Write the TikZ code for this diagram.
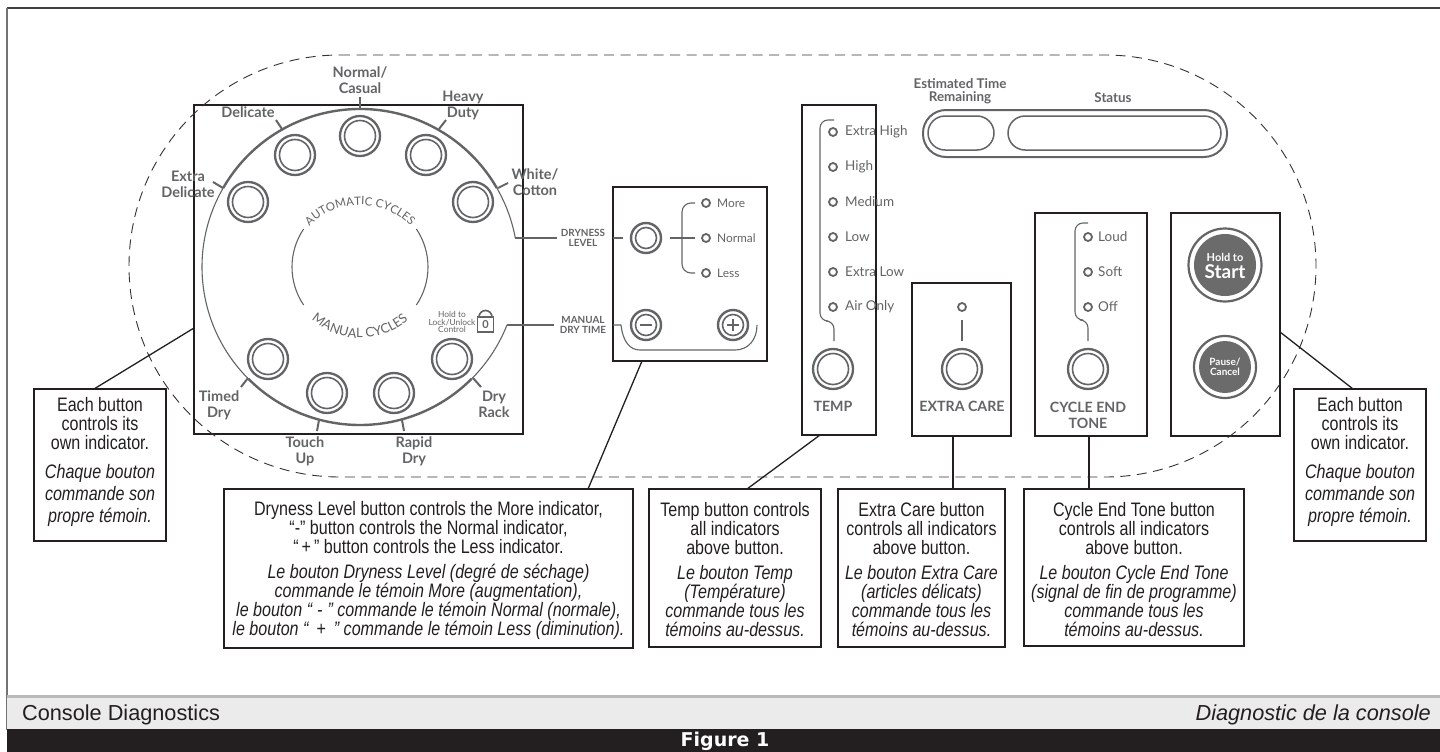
\documentclass[tikz,border=0pt]{standalone}
\usepackage{fontspec}
\setmainfont{Liberation Sans}
\newfontfamily\nar[FakeStretch=0.825]{Liberation Sans}
\newfontfamily\lab{Lato}
\newfontfamily\heavy{DejaVu Sans}
\usetikzlibrary{decorations.text,calc}
\definecolor{pg}{HTML}{636466}
\definecolor{ink}{HTML}{231F20}
\newcommand\topgap{\rule{0pt}{18pt}}
\newcommand\botgap{\rule[-11pt]{0pt}{0pt}}
\tikzset{
  x=1pt,y=1pt,
  btnout/.style={circle,draw=pg,line width=2.3pt,minimum size=40pt,inner sep=0pt,outer sep=0pt},
  btnin/.style={circle,draw=pg,line width=1.6pt,minimum size=31pt,inner sep=0pt,outer sep=0pt},
  smout/.style={circle,draw=pg,line width=2.4pt,minimum size=30pt,inner sep=0pt,outer sep=0pt},
  smin/.style={circle,draw=pg,line width=1.6pt,minimum size=21pt,inner sep=0pt,outer sep=0pt},
  led/.style={circle,draw=pg,line width=1.8pt,minimum size=8pt,inner sep=0pt,outer sep=0pt},
  panelbox/.style={draw=ink,line width=1.7pt,inner sep=0pt,outer sep=0pt,rectangle},
  call/.style={draw=ink,line width=1.8pt,inner sep=0pt,outer sep=0pt,rectangle,align=center,text=ink,
     font=\nar\fontsize{19.5}{19}\selectfont},
  lead/.style={draw=ink,line width=1.3pt},
  thinln/.style={draw=pg,line width=1.1pt},
  thickarc/.style={draw=pg,line width=2.4pt},
  dialtick/.style={draw=pg,line width=2pt},
  cyc/.style={text=pg,inner sep=0pt,align=center,font=\lab\bfseries\fontsize{14.5}{16}\selectfont},
  ind/.style={text=pg,inner sep=0pt,anchor=west,font=\lab\fontsize{11.9}{12}\selectfont},
  indb/.style={text=pg,inner sep=0pt,anchor=west,font=\lab\fontsize{13.5}{14}\selectfont},
  captxt/.style={text=pg,inner sep=0pt,align=center,font=\lab\bfseries\fontsize{14.2}{16}\selectfont},
  tinytxt/.style={text=pg,inner sep=0pt,align=center,font=\lab\bfseries\fontsize{9.9}{9.3}\selectfont},
}
\begin{document}
\begin{tikzpicture}
\useasboundingbox (0,0) rectangle (1440,-752);
\fill[white] (0,0) rectangle (1440,-752);
% frame and footer
\draw[draw=black!75,line width=1.8pt] (1440,-8) -- (7,-8);
\draw[draw=black!55,line width=1.8pt] (7,-8) -- (7,-730);
\fill[fill=black!8] (7,-696) rectangle (1440,-729);
\fill[fill=black!27] (7,-695) rectangle (1440,-698);
\fill[fill=ink] (7,-729) rectangle (1440,-752);
\node[anchor=west,inner sep=0pt,text=ink,font=\fontsize{21.7}{22}\selectfont] (fl) at (22,-715) {Console Diagnostics};
\node[anchor=east,inner sep=0pt,text=ink,font=\itshape\fontsize{21.7}{22}\selectfont] (fr) at (1431,-715) {Diagnostic de la console};
\node[inner sep=0pt,text=white,font=\heavy\bfseries\fontsize{19}{19}\selectfont] (fig) at (725,-741) {Figure 1};
% panels
\node[panelbox,minimum width=329pt,minimum height=329pt] (panel) at (358.5,-269.5) {};
\node[panelbox,minimum width=154pt,minimum height=174pt] (dry) at (690,-274) {};
\node[panelbox,minimum width=74pt,minimum height=330pt] (temp) at (839,-270) {};
\node[panelbox,minimum width=99pt,minimum height=153pt] (extra) at (961.5,-359.5) {};
\node[panelbox,minimum width=112pt,minimum height=223pt] (tone) at (1091,-324.5) {};
\node[panelbox,minimum width=109pt,minimum height=223pt] (start) at (1225.5,-324.5) {};
% dial
\coordinate (C) at (360,-267);
\draw[thickarc] (C) ++(150:158) arc (150:30:158);
\draw[thickarc] (C) ++(225:158) arc (225:315:158);
\draw[thinln] (C) ++(150:158) arc (150:225:158);
\coordinate (arcA) at (515,-238);
\coordinate (arcB) at (507,-325);
\draw[thinln] (C) ++(30:158) arc (30:10.6:158) -- (arcA);
\draw[thinln] (C) ++(-45:158) arc (-45:-22:158) -- (arcB);
\draw[thinln] (C) ++(146:68) arc (146:214:68);
\draw[thinln] (C) ++(34:68) arc (34:-34:68);
\path[decorate,decoration={text along path,text align=center,
   text={|\lab\fontsize{11.5}{12}\selectfont\color{pg}|AUTOMATIC CYCLES}}]
   (360,-276) ++(137:71) arc (137:43:71);
\path[decorate,decoration={text along path,text align=center,
   text={|\lab\fontsize{13}{13}\selectfont\color{pg}|MANUAL CYCLES}}]
   (360,-265) ++(222:73) arc (222:318:73);
% ticks
\draw[dialtick] (213,-182) -- (223,-188);
\draw[dialtick] (276,-120) -- (282,-129);
\draw[dialtick] (360,-97) -- (360,-108);
\draw[dialtick] (446,-120) -- (439,-129);
\draw[dialtick] (508,-183) -- (498,-188);
\draw[dialtick] (241,-387) -- (248,-378);
\draw[dialtick] (317,-431) -- (319,-420);
\draw[dialtick] (404,-431) -- (402,-420);
\draw[dialtick] (481,-387) -- (473,-378);
% buttons
\foreach \n/\x/\y in {nc/360/136,de/295/155,hd/426/155,ed/248/202,wc/473/202,td/268/359,tu/327/393,rd/394/393,dr/452/359,tb/833/369,eb/962/369,cb/1088/369}{
  \node[btnout] (\n) at (\x,-\y) {};
  \node[btnin] (\n i) at (\x,-\y) {};
}
% cycle labels
\node[cyc] (l1) at (360,-80) {Normal/\\Casual};
\node[cyc] (l2) at (248,-112) {Delicate};
\node[cyc] (l3) at (463,-105) {Heavy\\Duty};
\node[cyc] (l4) at (188,-184) {Extra\\Delicate};
\node[cyc] (l5) at (535,-182) {White/\\Cotton};
\node[cyc] (l6) at (219,-405) {Timed\\Dry};
\node[cyc] (l7) at (305,-451) {Touch\\Up};
\node[cyc] (l8) at (414,-451) {Rapid\\Dry};
\node[cyc] (l9) at (494,-404) {Dry\\Rack};
% lock
\node[text=pg,inner sep=0pt,align=center,font=\lab\fontsize{8.4}{7.6}\selectfont] (lk) at (452,-322) {Hold to\\Lock/Unlock\\Control};
\draw[draw=pg,line width=1.6pt] (479,-317) arc (180:0:6.5);
\draw[draw=pg,line width=1.8pt] (477.5,-317) rectangle (493.5,-332);
\node[text=pg,inner sep=0pt,font=\lab\bfseries\fontsize{11}{11}\selectfont] (lk0) at (485.5,-324.5) {0};
% dryness panel
\node[tinytxt] (drylab) at (583,-238) {DRYNESS\\LEVEL};
\node[tinytxt] (mdt) at (583,-325) {MANUAL\\DRY\ TIME};
\draw[thinln] (arcA) -- ([xshift=-4pt]drylab.west);
\draw[thinln] (arcB) -- ([xshift=-6pt]mdt.west);
\node[smout] (db) at (646,-238) {};
\node[smin] (dbi) at (646,-238) {};
\node[smout] (mb) at (646,-325) {};
\node[smin] (mbi) at (646,-325) {};
\node[smout] (pb) at (733,-325) {};
\node[smin] (pbi) at (733,-325) {};
\draw[draw=pg,line width=1.8pt] (640,-325) -- (652,-325);
\draw[draw=pg,line width=1.8pt] (727,-325) -- (739,-325) (733,-319) -- (733,-331);
\draw[thinln] (613,-238) -- (623,-238);
\draw[thinln] (670,-238) -- (695,-238);
\draw[thinln,rounded corners=9pt] (695,-203) -- (682,-203) -- (682,-273) -- (695,-273);
\draw[thinln] (613,-325) -- (621,-325) .. controls (623,-342) and (630,-350) .. (640,-350) -- (735,-350) .. controls (748,-350) and (757,-340) .. (757,-325);
\node[led] (i1) at (706,-203) {};
\node[led] (i2) at (706,-238) {};
\node[led] (i3) at (706,-273) {};
\node[ind] (t1) at (717,-203) {More};
\node[ind] (t2) at (717,-238) {Normal};
\node[ind] (t3) at (717,-273) {Less};
% temp
\draw[thinln,rounded corners=8pt] (834,-120) -- (820,-120) -- (820,-321) -- (834,-321) [sharp corners] -- (834,-341);
\foreach \n/\y/\t in {a/132/Extra High,b/167/High,c/202/Medium,d/237/Low,e/272/Extra Low,f/307/Air Only}{
  \node[led,fill=white] (tl\n) at (833,-\y) {};
  \node[indb] (tt\n) at (845,-\y) {\t};
}
\node[captxt] (tc) at (833,-406) {TEMP};
% extra care
\node[led] (ei) at (962,-307) {};
\draw[thinln] (962,-320) -- (962,-341);
\node[captxt] (ec) at (962,-406) {EXTRA CARE};
% cycle tone
\draw[thinln,rounded corners=8pt] (1088,-223) -- (1075,-223) -- (1075,-320) -- (1088,-320) [sharp corners] -- (1088,-341);
\foreach \n/\y/\t in {a/237/Loud,b/272/Soft,c/307/Off}{
  \node[led,fill=white] (cl\n) at (1088,-\y) {};
  \node[indb] (ct\n) at (1098,-\y) {\t};
}
\node[captxt] (cc) at (1088,-415) {CYCLE END\\TONE};
% display
\node[inner sep=0pt,align=center,text=pg,font=\lab\bfseries\fontsize{13.4}{13}\selectfont] (est) at (960,-91.5) {Estimated Time\\Remaining};
\node[inner sep=0pt,text=pg,font=\lab\bfseries\fontsize{13.4}{13}\selectfont] (sta) at (1113,-98) {Status};
\draw[draw=pg,line width=2pt,rounded corners=23pt] (923,-110) rectangle (1227,-157);
\draw[draw=pg,line width=1.5pt,rounded corners=17pt] (928,-116) rectangle (994,-150);
\draw[draw=pg,line width=1.5pt,rounded corners=17pt] (1008,-116) rectangle (1221,-150);
% start / pause
\node[circle,draw=pg,line width=2.2pt,minimum size=73pt,inner sep=0pt,outer sep=0pt] (sto) at (1225,-265) {};
\node[circle,fill=black!58,minimum size=62pt,inner sep=0pt,outer sep=0pt] (st) at (1225,-265) {};
\node[circle,draw=pg,line width=2.2pt,minimum size=62pt,inner sep=0pt,outer sep=0pt] (pco) at (1225,-367) {};
\node[circle,fill=black!58,minimum size=52pt,inner sep=0pt,outer sep=0pt] (pc) at (1225,-367) {};
\node[text=white,inner sep=0pt,font=\lab\bfseries\fontsize{11}{11}\selectfont] (s1) at (1225,-257) {Hold to};
\node[text=white,inner sep=0pt,font=\lab\bfseries\fontsize{19}{19}\selectfont] (s2) at (1225,-272) {Start};
\node[text=white,inner sep=0pt,align=center,font=\lab\bfseries\fontsize{10}{10}\selectfont] (p1) at (1225,-367) {Pause/\\Cancel};
% dashed console outline
\draw[draw=black!80,line width=0.9pt,dash pattern=on 10pt off 6.5pt]
  (340,-55) -- (1105,-55) arc (90:-90:211) -- (340,-477) arc (270:90:211) -- cycle;
% callouts
\node[call,minimum width=132pt,minimum height=152pt] (cl) at (100,-465) {Each button\\controls its\\own indicator.\\[10pt]\itshape Chaque bouton\\[3pt]\itshape commande son\\[3pt]\itshape propre témoin.\botgap};
\node[call,minimum width=132pt,minimum height=152pt] (cr) at (1360,-465) {Each button\\controls its\\own indicator.\\[10pt]\itshape Chaque bouton\\[3pt]\itshape commande son\\[3pt]\itshape propre témoin.\botgap};
\node[call,minimum width=409pt,minimum height=159pt] (cd) at (428.5,-568.5) {\topgap Dryness Level button controls the More indicator,\\“-” button controls the Normal indicator,\\“\kern3pt+\kern3pt” button controls the Less indicator.\\[6pt]\itshape Le bouton Dryness Level (degré de séchage)\\\itshape commande le témoin More (augmentation),\\\itshape le bouton “\kern5pt-\kern5pt” commande le témoin Normal (normale),\\\itshape le bouton “\kern8pt+\kern8pt” commande le témoin Less (diminution).};
\node[call,minimum width=172pt,minimum height=158pt] (ct) at (735,-568) {\topgap Temp button controls\\all indicators\\above button.\\[6pt]\itshape Le bouton Temp\\\itshape (Température)\\\itshape commande tous les\\\itshape témoins au-dessus.};
\node[call,minimum width=167pt,minimum height=158pt] (ce) at (921.5,-568) {\topgap Extra Care button\\controls all indicators\\above button.\\[6pt]\itshape Le bouton Extra Care\\\itshape (articles délicats)\\\itshape commande tous les\\\itshape témoins au-dessus.};
\node[call,minimum width=220pt,minimum height=157pt] (cy) at (1134,-567.5) {\topgap Cycle End Tone button\\controls all indicators\\above button.\\[6pt]\itshape Le bouton Cycle End Tone\\\itshape (signal de fin de programme)\\\itshape commande tous les\\\itshape témoins au-dessus.};
% leaders
\draw[lead] ([yshift=-58.5pt]panel.west) -- ([xshift=-6pt]cl.north);
\draw[lead] ([yshift=-7.5pt]start.east) -- ([xshift=-7pt]cr.north);
\draw[lead] ([xshift=-48pt]dry.south) -- ([xshift=159.5pt]cd.north);
\draw[lead] ([xshift=-19pt]temp.south) -- ([xshift=12pt]ct.north);
\draw[lead] ([xshift=-8.5pt]extra.south) -- ([xshift=31.5pt]ce.north);
\draw[lead] ([xshift=-2pt]tone.south) -- ([xshift=-45pt]cy.north);
\end{tikzpicture}
\end{document}
